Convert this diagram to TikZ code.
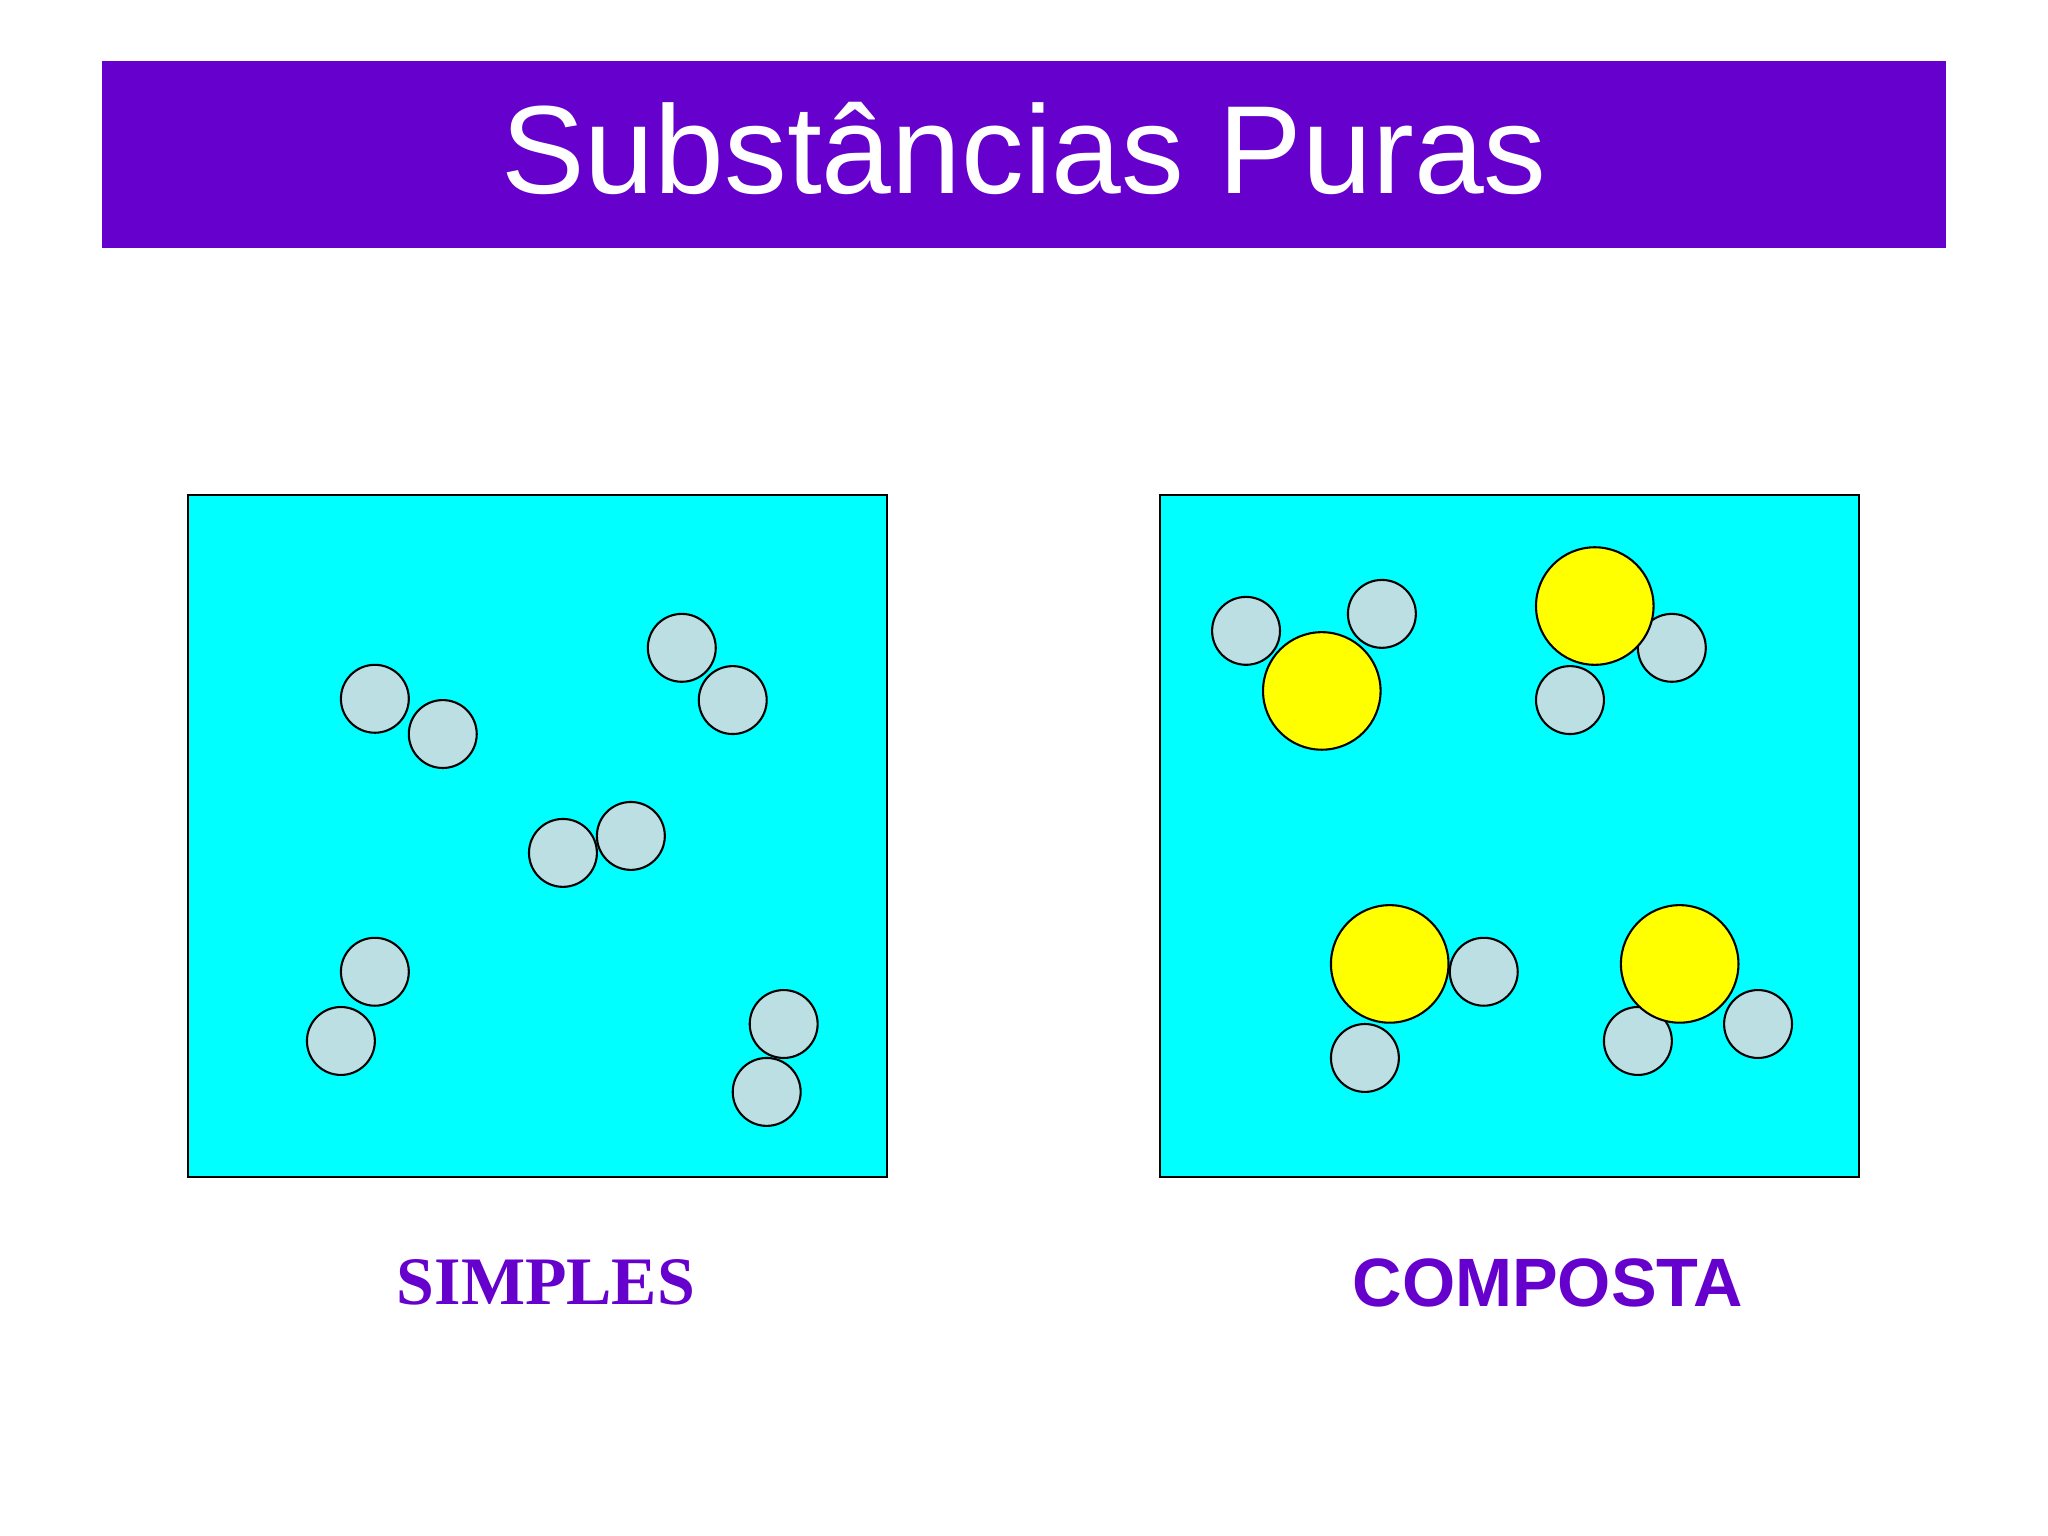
\documentclass[tikz,border=0pt]{standalone}
\usepackage{fontspec}
\setmainfont{Liberation Sans}
\newfontfamily\timesf{Liberation Serif}
\definecolor{purp}{HTML}{6600CC}
\definecolor{atom}{HTML}{BCDFE3}
\definecolor{cyanbg}{HTML}{00FFFF}
\definecolor{yel}{HTML}{FFFF00}
\begin{document}
\begin{tikzpicture}[x=0.5pt,y=-0.5pt,
  sm/.style={circle,draw=black,line width=0.8pt,fill=atom,minimum size=26pt,inner sep=0pt},
  bg/.style={circle,draw=black,line width=0.8pt,fill=yel,minimum size=45pt,inner sep=0pt},
  boxs/.style={draw=black,line width=0.8pt,fill=cyanbg}]
\useasboundingbox (0,0) rectangle (1568,1176);
\fill[purp] (78,47) rectangle (1490,190);
\node[text=white,font=\fontsize{48}{50}\selectfont] (title) at (784,114) {Substâncias Puras};
\draw[boxs] (144,379) rectangle (679,901);
\draw[boxs] (888,379) rectangle (1423,901);
\foreach \p [count=\i] in {(287,535),(339,562),(522,496),(561,536),(431,653),(483,640),(287,744),(261,797),(600,784),(587,836)}
  \node[sm] (l\i) at \p {};
\foreach \p [count=\i] in {(954,483),(1058,470),(1280,496),(1202,536),(1136,744),(1045,810),(1254,797),(1346,784)}
  \node[sm] (r\i) at \p {};
\foreach \p [count=\i] in {(1012,529),(1221,464),(1064,738),(1286,738)}
  \node[bg] (y\i) at \p {};
\node[text=purp,font=\timesf\bfseries\fontsize{26}{28}\selectfont] (s) at (418,982) {SIMPLES};
\node[text=purp,font=\bfseries\fontsize{26.2}{28}\selectfont] (c) at (1185,982) {COMPOSTA};
\end{tikzpicture}
\end{document}
